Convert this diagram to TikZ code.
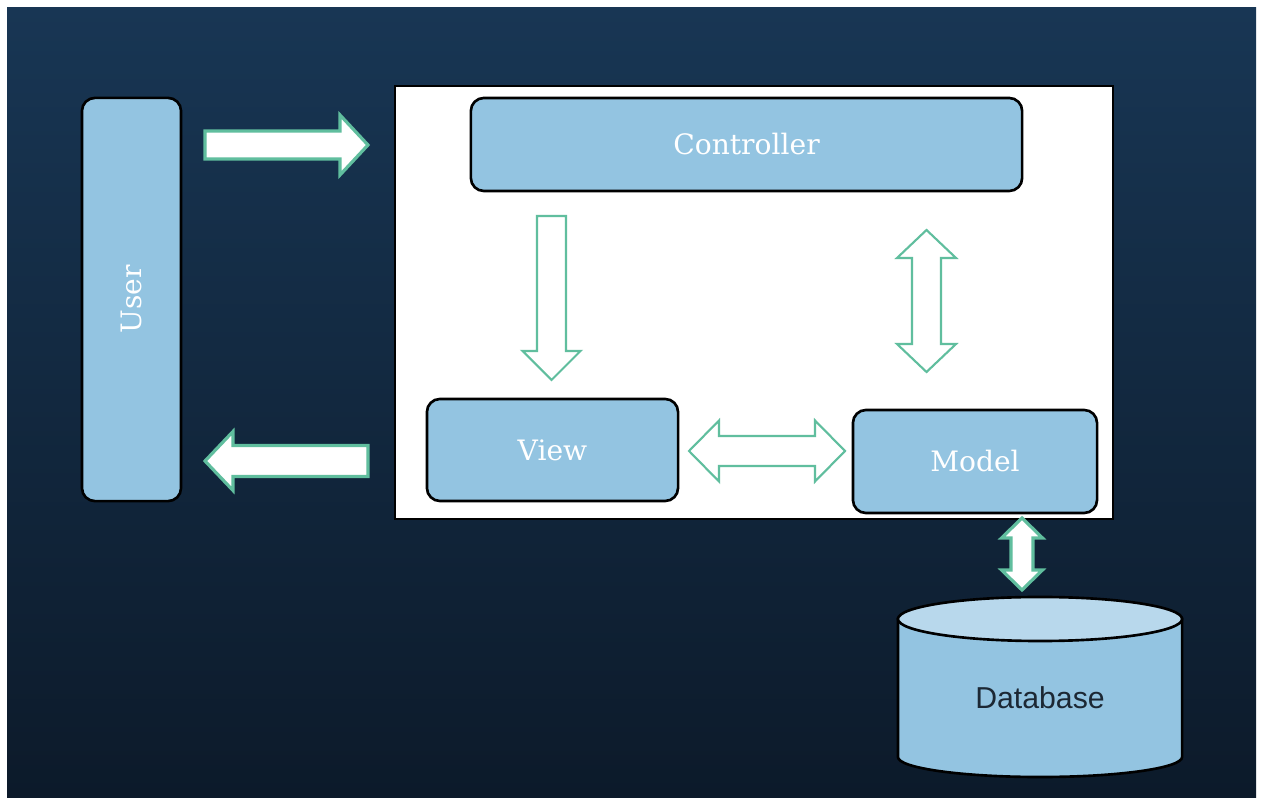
\documentclass[tikz,border=0pt]{standalone}
\usepackage{fontspec}
\setmainfont{Liberation Sans}
\newfontfamily\slabfont{DejaVu Serif}
\usepackage{tikz}
\usetikzlibrary{calc}
\usetikzlibrary{positioning}
\definecolor{bgtop}{RGB}{24,54,84}
\definecolor{bgmid}{RGB}{30,67,100}
\definecolor{bgbot}{RGB}{12,26,42}
\definecolor{boxblue}{RGB}{147,196,225}
\definecolor{dbtopblue}{RGB}{184,216,236}
\definecolor{mint}{RGB}{96,190,158}
\definecolor{dbtext}{RGB}{28,40,52}

% block arrows: style, from, to, shaft half width, head half width, head length
\newcommand{\singlearrow}[6]{%
	\coordinate (hb) at ($(#3)!#6!(#2)$);
	\draw[#1] ($(#2)!#4!90:(#3)$) -- ($(hb)!#4!90:(#3)$) -- ($(hb)!#5!90:(#3)$) -- (#3)
	-- ($(hb)!#5!-90:(#3)$) -- ($(hb)!#4!-90:(#3)$) -- ($(#2)!#4!-90:(#3)$) -- cycle;
}
\newcommand{\doublearrow}[6]{%
	\coordinate (ha) at ($(#2)!#6!(#3)$);
	\coordinate (hb) at ($(#3)!#6!(#2)$);
	\draw[#1] (#2) -- ($(ha)!#5!90:(#3)$) -- ($(ha)!#4!90:(#3)$) -- ($(hb)!#4!90:(#3)$)
	-- ($(hb)!#5!90:(#3)$) -- (#3) -- ($(hb)!#5!-90:(#3)$) -- ($(hb)!#4!-90:(#3)$)
	-- ($(ha)!#4!-90:(#3)$) -- ($(ha)!#5!-90:(#3)$) -- cycle;
}

\tikzset{
	box/.style={draw=black, line width=0.75pt, fill=boxblue, rounded corners=0.13cm, inner sep=0pt},
	lbl/.style={text=white, font=\slabfont\fontsize{8}{9}\selectfont},
	outarrow/.style={draw=mint, fill=white, line width=0.9pt},
	inarrow/.style={draw=mint, fill=white, line width=0.6pt},
}

\begin{document}
\begin{tikzpicture}[x=0.01cm, y=-0.01cm]
	\useasboundingbox (0,0) rectangle (1261,798);
	\fill[white] (0,0) rectangle (1261,798);
	\shade[top color=bgtop, middle color=bgmid, bottom color=bgbot] (7,8) rectangle (1256,797);
	
	% main frame
	\node [draw=black, line width=0.6pt, fill=white, minimum width=7.18cm, minimum height=4.33cm, inner sep=0pt] (panel) at (754,302.5) {};
	
	\node [box, minimum width=0.99cm, minimum height=4.03cm] (user) at (131.5,299.5) {};
	\node [lbl, rotate=90] (usertext) at (user.center) {User};
	
	\node [box, minimum width=5.51cm, minimum height=0.93cm, lbl] (ctrl) at (746.5,144.5) {Controller};
	\node [box, minimum width=2.51cm, minimum height=1.02cm, lbl] (view) at (552.5,450) {View};
	\node [box, minimum width=2.44cm, minimum height=1.03cm, lbl] (model) at (975,461.5) {Model};
	
	% database cylinder
	\coordinate [] (dbtop) at (1040,619);
	\coordinate [] (dbbot) at (1040,757);
	\draw[line width=0.75pt, fill=boxblue] ([xshift=-1.42cm]dbtop) -- ([xshift=-1.42cm]dbbot)
		arc[start angle=180, end angle=360, x radius=1.42cm, y radius=0.2cm] -- ([xshift=1.42cm]dbtop) -- cycle;
	\draw[line width=0.75pt, fill=dbtopblue] (dbtop) ellipse[x radius=1.42cm, y radius=0.22cm];
	\node [text=dbtext, font=\fontsize{8.6}{10}\selectfont] (db) at (1040,698) {Database};
	
	% arrow ends
	\coordinate [] (userout) at (205,145);
	\coordinate [] (panelin) at (368,145);
	\coordinate [] (panelout) at (368,461);
	\coordinate [] (userin) at (205,461);
	\coordinate [] (ctrldown) at (551.5,216);
	\coordinate [] (viewup) at (551.5,380);
	\coordinate [] (ctrlmodel) at (926.5,230);
	\coordinate [] (modelctrl) at (926.5,372);
	\coordinate [] (viewmodel) at (689,451);
	\coordinate [] (modelview) at (845,451);
	\coordinate [] (modeldb) at (1022,518);
	\coordinate [] (dbmodel) at (1022,590);
	
	\singlearrow{outarrow}{userout}{panelin}{0.14cm}{0.30cm}{0.28cm}
	\singlearrow{outarrow}{panelout}{userin}{0.155cm}{0.295cm}{0.28cm}
	\singlearrow{inarrow}{ctrldown}{viewup}{0.145cm}{0.29cm}{0.29cm}
	\doublearrow{inarrow}{ctrlmodel}{modelctrl}{0.145cm}{0.295cm}{0.28cm}
	\doublearrow{inarrow}{viewmodel}{modelview}{0.15cm}{0.305cm}{0.30cm}
	\doublearrow{outarrow}{modeldb}{dbmodel}{0.11cm}{0.205cm}{0.20cm}
	
\end{tikzpicture}
\end{document}
